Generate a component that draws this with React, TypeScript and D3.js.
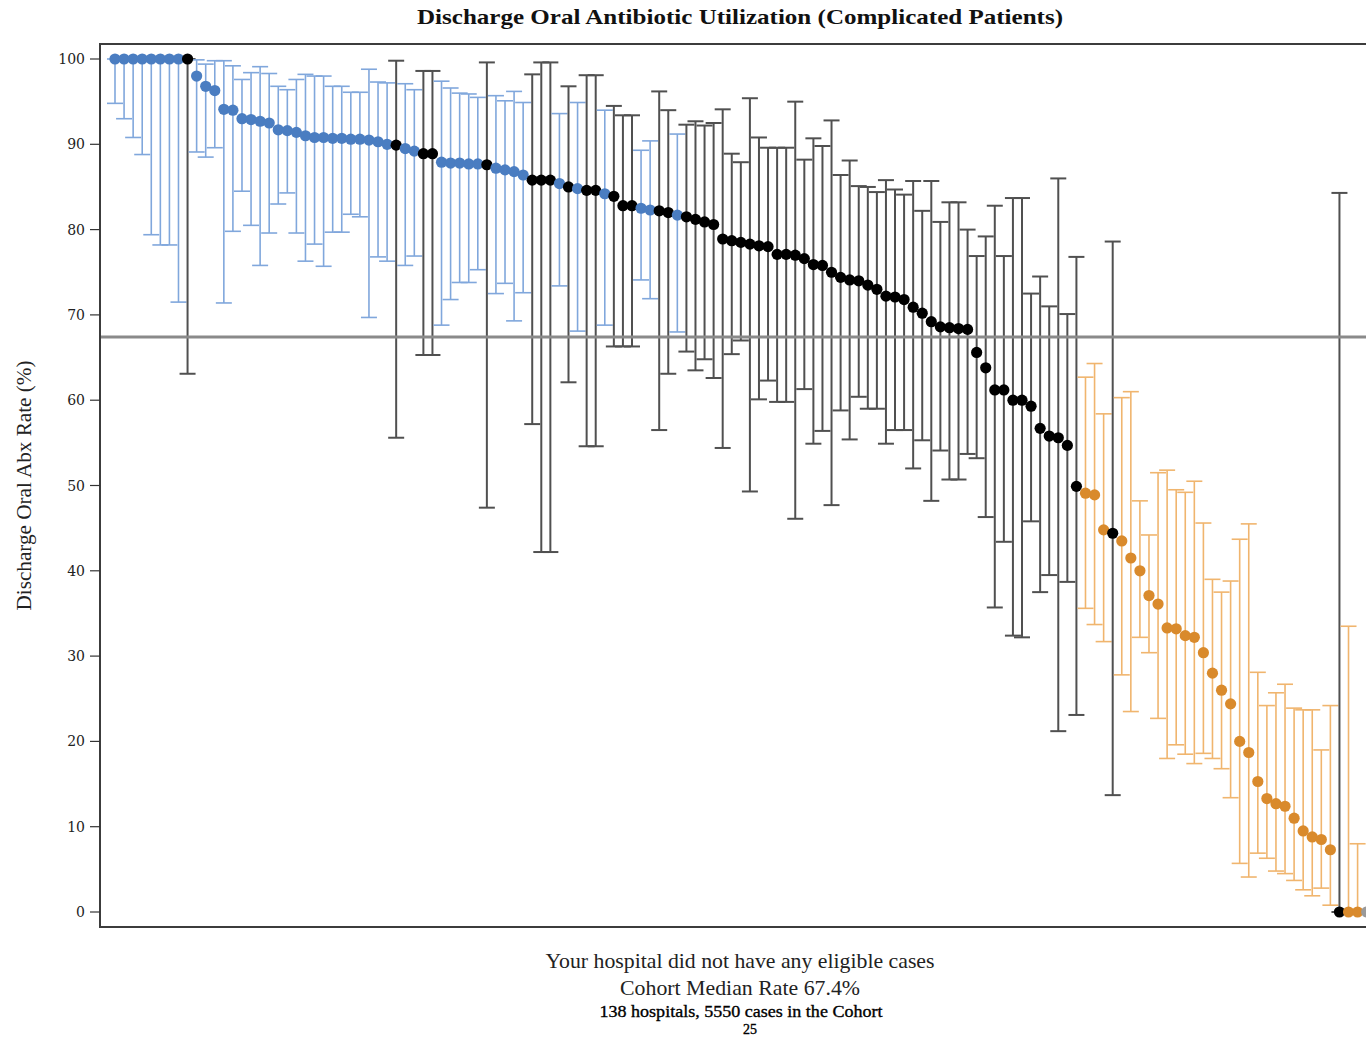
import React from "react";
import * as d3 from "d3";

// Hospitals sorted by discharge oral antibiotic rate (%), with 95% CI bounds.
const rate = [
  100, 100, 100, 100, 100, 100, 100, 100, 100, 98.0,
  96.8, 96.3, 94.1, 94.0, 93.0, 92.9, 92.7, 92.5, 91.7, 91.6,
  91.4, 91.0, 90.8, 90.8, 90.7, 90.7, 90.6, 90.6, 90.5, 90.3,
  90.0, 89.9, 89.5, 89.2, 88.9, 88.9, 87.9, 87.8, 87.8, 87.7,
  87.7, 87.6, 87.2, 87.0, 86.8, 86.4, 85.8, 85.8, 85.8, 85.4,
  85.0, 84.8, 84.6, 84.6, 84.2, 83.9, 82.8, 82.8, 82.5, 82.3,
  82.2, 82.0, 81.7, 81.5, 81.2, 80.9, 80.6, 78.9, 78.7, 78.5,
  78.3, 78.1, 78.0, 77.1, 77.1, 77.0, 76.6, 75.9, 75.8, 75.0,
  74.4, 74.1, 74.0, 73.5, 73.0, 72.2, 72.1, 71.8, 70.9, 70.2,
  69.2, 68.6, 68.5, 68.4, 68.3, 65.6, 63.8, 61.2, 61.2, 60.0,
  60.0, 59.3, 56.7, 55.8, 55.6, 54.7, 49.9, 49.1, 48.9, 44.8,
  44.4, 43.5, 41.5, 40.0, 37.1, 36.1, 33.3, 33.2, 32.4, 32.2,
  30.4, 28.0, 26.0, 24.4, 20.0, 18.7, 15.3, 13.3, 12.7, 12.4,
  11.0, 9.5, 8.8, 8.5, 7.3, 0, 0, 0, 0,
];

const lower: (number | null)[] = [
  94.8, 93.0, 90.8, 88.8, 79.4, 78.2, 78.2, 71.5, 63.1, 89.1,
  88.5, 89.6, 71.4, 79.8, 84.5, 80.5, 75.8, 79.6, 83.0, 84.3,
  79.6, 76.3, 78.3, 75.7, 79.7, 79.7, 81.8, 81.5, 69.7, 76.8,
  76.3, 55.6, 75.8, 76.9, 65.3, 65.3, 68.8, 71.8, 73.8, 73.8,
  75.3, 47.4, 72.5, 73.7, 69.3, 72.6, 57.2, 42.2, 42.2, 73.4,
  62.1, 68.1, 54.6, 54.6, 68.8, 66.3, 66.3, 66.3, 74.1, 71.9,
  56.5, 63.1, 68.0, 65.7, 63.5, 64.8, 62.6, 54.4, 65.4, 67.0,
  49.3, 60.1, 62.3, 59.8, 59.8, 46.1, 61.3, 54.9, 56.4, 47.7,
  58.8, 55.4, 60.4, 59.0, 59.0, 54.9, 56.5, 56.5, 52.0, 55.3,
  48.2, 54.1, 50.7, 50.7, 53.7, 53.2, 46.3, 35.7, 43.4, 32.4,
  32.2, 45.8, 37.5, 39.5, 21.2, 38.7, 23.1, 35.6, 33.7, 31.7,
  13.7, 27.8, 23.5, 32.2, 30.4, 22.7, 18.0, 19.6, 18.5, 17.4,
  18.6, 18.0, 16.8, 13.4, 5.7, 4.1, 6.9, 6.3, 4.8, 4.5,
  3.7, 2.6, 1.9, 2.8, 0.8, 0, 0, 0, null,
];

const upper: (number | null)[] = [
  100, 100, 100, 100, 100, 100, 100, 100, 100, 99.9,
  99.4, 99.8, 99.8, 99.2, 97.6, 98.4, 99.1, 98.3, 96.8, 96.4,
  97.6, 98.2, 98.0, 98.0, 96.8, 96.8, 96.1, 96.1, 98.8, 97.3,
  97.2, 99.8, 97.1, 96.4, 98.6, 98.6, 97.4, 96.6, 96.0, 95.9,
  95.5, 99.6, 95.7, 95.1, 96.2, 94.9, 98.2, 99.6, 99.6, 93.6,
  96.8, 94.9, 98.1, 98.1, 94.0, 94.5, 93.4, 93.4, 89.3, 90.4,
  96.2, 94.0, 91.2, 92.3, 92.7, 92.2, 92.5, 94.1, 88.9, 87.9,
  95.4, 90.8, 89.6, 89.6, 89.6, 95.0, 88.2, 90.7, 89.8, 92.8,
  86.4, 88.1, 85.1, 85.0, 84.4, 85.8, 84.7, 84.1, 85.7, 82.2,
  85.7, 80.9, 83.2, 83.2, 80.0, 76.9, 79.2, 82.8, 76.9, 83.7,
  83.7, 72.5, 74.5, 71.0, 86.0, 70.1, 76.8, 62.7, 64.3, 58.4,
  78.6, 60.3, 61.0, 48.2, 44.2, 51.5, 51.8, 49.5, 49.2, 50.5,
  45.6, 39.0, 37.5, 38.8, 43.7, 45.5, 28.1, 24.2, 25.7, 26.7,
  23.9, 23.7, 23.7, 19.0, 24.2, 84.3, 33.5, 8.0, null,
];

const cohortMedian = 67.4;
const yTicks = [0, 10, 20, 30, 40, 50, 60, 70, 80, 90, 100];

const title = "Discharge Oral Antibiotic Utilization (Complicated Patients)";
const yLabel = "Discharge Oral Abx Rate (%)";
const footer = [
  "Your hospital did not have any eligible cases",
  `Cohort Median Rate ${cohortMedian}%`,
];
const cohortNote = "138 hospitals, 5550 cases in the Cohort";
const pageNumber = "25";

type Group = "above" | "similar" | "below" | "none";

const palette: Record<Group, { dot: string; bar: string; width: number }> = {
  above: { dot: "#4a7dc1", bar: "#80a7dc", width: 1.6 },
  similar: { dot: "#000000", bar: "#505050", width: 2 },
  below: { dot: "#d98a2c", bar: "#f0b56e", width: 1.6 },
  none: { dot: "#9a9a9a", bar: "#9a9a9a", width: 1.6 },
};

function groupOf(i: number): Group {
  const lo = lower[i];
  const hi = upper[i];
  if (lo == null || hi == null) return "none";
  if (lo > cohortMedian) return "above";
  if (hi < cohortMedian) return "below";
  return "similar";
}

export default function App() {
  const W = 1366;
  const H = 1038;
  const frame = { left: 100, top: 44, bottom: 927, right: 1400 };

  const y = d3.scaleLinear().domain([0, 100]).range([912, 59]);
  const idx = d3.range(rate.length);
  const x = d3
    .scaleLinear()
    .domain([0, rate.length - 1])
    .range([115, 115 + (rate.length - 1) * 9.07]);

  const capHalf = 8;
  const r = 5.6;

  return (
    <svg
      width={W}
      height={H}
      style={{ position: "absolute", left: 0, top: 0, background: "#fff" }}
      fontFamily="'Liberation Serif', 'Times New Roman', serif"
    >
      <text
        x={740}
        y={24}
        textAnchor="middle"
        fontSize={22}
        fontWeight="bold"
        fill="#111"
        textLength={646}
        lengthAdjust="spacingAndGlyphs"
      >
        {title}
      </text>

      {/* error bars */}
      <g>
        {idx.map((i) => {
          const lo = lower[i];
          const hi = upper[i];
          if (lo == null || hi == null) return null;
          const p = palette[groupOf(i)];
          const cx = x(i);
          return (
            <g key={i} stroke={p.bar} strokeWidth={p.width} fill="none">
              <line x1={cx} x2={cx} y1={y(lo)} y2={y(hi)} />
              <line x1={cx - capHalf} x2={cx + capHalf} y1={y(lo)} y2={y(lo)} />
              <line x1={cx - capHalf} x2={cx + capHalf} y1={y(hi)} y2={y(hi)} />
            </g>
          );
        })}
      </g>

      {/* cohort median reference line */}
      <line
        x1={frame.left}
        x2={frame.right}
        y1={y(cohortMedian)}
        y2={y(cohortMedian)}
        stroke="#8a8a8a"
        strokeWidth={3}
      />

      {/* hospital rates */}
      <g>
        {idx.map((i) => (
          <circle key={i} cx={x(i)} cy={y(rate[i])} r={r} fill={palette[groupOf(i)].dot} />
        ))}
      </g>

      {/* plot frame */}
      <rect
        x={frame.left}
        y={frame.top}
        width={frame.right - frame.left}
        height={frame.bottom - frame.top}
        fill="none"
        stroke="#3c3c3c"
        strokeWidth={2}
      />

      {/* y axis */}
      <g>
        {yTicks.map((t) => (
          <g key={t}>
            <line x1={frame.left - 10} x2={frame.left} y1={y(t)} y2={y(t)} stroke="#333" strokeWidth={1.2} />
            <text
              x={frame.left - 15}
              y={y(t)}
              dy="0.36em"
              textAnchor="end"
              fontSize={14}
              fontFamily="'DejaVu Serif', serif"
              fill="#222"
            >
              {t}
            </text>
          </g>
        ))}
        <text
          transform={`translate(31, ${(y(0) + y(100)) / 2}) rotate(-90)`}
          textAnchor="middle"
          fontSize={20}
          fill="#222"
          textLength={250}
          lengthAdjust="spacingAndGlyphs"
        >
          {yLabel}
        </text>
      </g>

      {/* footer notes */}
      <text x={740} y={968} textAnchor="middle" fontSize={21} fill="#222" textLength={389} lengthAdjust="spacingAndGlyphs">
        {footer[0]}
      </text>
      <text x={740} y={995} textAnchor="middle" fontSize={21} fill="#222" textLength={240} lengthAdjust="spacingAndGlyphs">
        {footer[1]}
      </text>
      <text
        x={741}
        y={1017}
        textAnchor="middle"
        fontSize={17}
        fill="#000"
        stroke="#000"
        strokeWidth={0.35}
        textLength={283}
        lengthAdjust="spacingAndGlyphs"
      >
        {cohortNote}
      </text>
      <text x={750} y={1034} textAnchor="middle" fontSize={14} fill="#000" stroke="#000" strokeWidth={0.35}>
        {pageNumber}
      </text>
    </svg>
  );
}
